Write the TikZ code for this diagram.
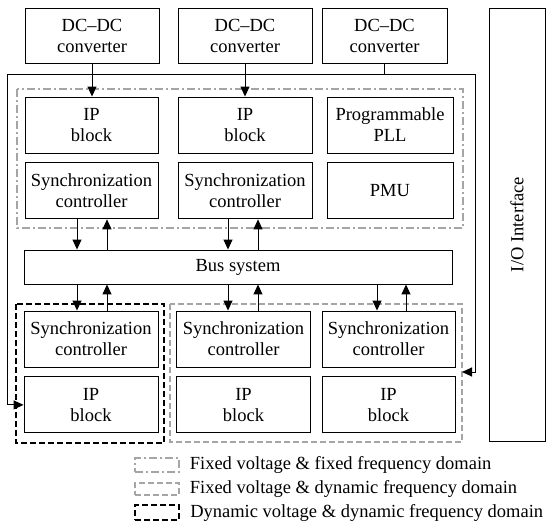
\documentclass[tikz,border=0pt]{standalone}
\usepackage{fontspec}
\setmainfont{Liberation Serif}
\usepackage{xcolor}
\usetikzlibrary{arrows.meta, positioning}
\definecolor{domgray}{RGB}{165,165,165}

\begin{document}
\begin{tikzpicture}[
  x=1pt, y=-1pt,
  font={\fontsize{18.5}{21}\selectfont},
  box/.style={rectangle, draw, line width=0.9pt, minimum width=134pt, minimum height=56pt, inner sep=0pt, align=center},
  arrow/.style={line width=1pt, -{Triangle[length=10pt,width=9pt]}},
  ffdom/.style={draw=domgray, line width=1.5pt, dash pattern=on 8pt off 3pt on 2pt off 3pt},
  fddom/.style={draw=domgray, line width=1.5pt, dash pattern=on 6pt off 3pt},
  dddom/.style={draw=black, line width=2.1pt, dash pattern=on 6pt off 3pt},
  swatch/.style={minimum width=44pt, inner sep=0pt},
  legtext/.style={inner sep=0pt}
]
  \useasboundingbox (0,0) rectangle (546,529);

  % converters
  \node[box, minimum height=55pt] (dc1) at (92,35.5) {DC--DC\\converter};
  \node[box, minimum height=55pt] (dc2) at (245,35.5) {DC--DC\\converter};
  \node[box, minimum width=125pt, minimum height=55pt] (dc3) at (384.5,35.5) {DC--DC\\converter};

  % upper domain
  \node[box, minimum width=133pt] (ip1) at (91.5,125) {IP\\block};
  \node[box, minimum width=133pt, below=9pt of ip1] (sc1) {Synchronization\\controller};
  \node[box] (ip2) at (245,125) {IP\\block};
  \node[box, below=9pt of ip2] (sc2) {Synchronization\\controller};
  \node[box, minimum width=126pt] (pll) at (390,125) {Programmable\\PLL};
  \node[box, minimum width=126pt, below=9pt of pll] (pmu) {PMU};

  \node[box, minimum width=428pt, minimum height=34pt] (bus) at (238,267) {Bus system};

  % lower domains
  \node[box] (sl1) at (91,339) {Synchronization\\controller};
  \node[box, below=9pt of sl1] (ipl1) {IP\\block};
  \node[box] (sl2) at (243.5,339) {Synchronization\\controller};
  \node[box, below=9pt of sl2] (ipl2) {IP\\block};
  \node[box, minimum width=133pt] (sl3) at (388.5,339) {Synchronization\\controller};
  \node[box, minimum width=133pt, below=9pt of sl3] (ipl3) {IP\\block};

  \node[draw, line width=0.9pt, rotate=90, minimum width=433pt, minimum height=56pt, inner sep=0pt] (io) at (517,224.5) {I/O Interface};

  % domain frames
  \draw[ffdom] (17,89) rectangle (463,228);
  \draw[dddom] (16,304) rectangle (164,443);
  \draw[fddom] (170,304) rectangle (462,442);

  % supply
  \draw[arrow] (dc1.south) -- (dc1.south |- ip1.north);
  \draw[arrow] (dc2.south) -- (dc2.south |- ip2.north);
  \coordinate (feedL) at (7,75);
  \coordinate (feedR) at (475,75);
  \coordinate (gdomE) at (462,372);
  \draw[line width=1pt] (dc3.south) -- (dc3.south |- feedL);
  \draw[arrow] (dc3.south |- feedL) -- (feedL) |- (ipl1.west);
  \draw[arrow] (dc3.south |- feedL) -- (feedR) |- (gdomE);

  % bus links
  \foreach \n/\a/\b in {sc1/-14.5/15.5, sc2/-17/13} {
    \path (\n.south) ++(\a,0) coordinate (dn) (\n.south) ++(\b,0) coordinate (up);
    \draw[arrow] (dn) -- (dn |- bus.north);
    \draw[arrow] (up |- bus.north) -- (up);
  }
  \foreach \n/\a/\b in {sl1/-14/16, sl2/-15.5/14.5, sl3/-11.5/17.5} {
    \path (\n.north) ++(\a,0) coordinate (dn) (\n.north) ++(\b,0) coordinate (up);
    \draw[arrow] (dn |- bus.south) -- (dn);
    \draw[arrow] (up) -- (up |- bus.south);
  }

  % legend
  \node[swatch, ffdom, line width=1.3pt, minimum height=14pt] (lg1) at (157,465) {};
  \node[legtext, right=10pt of lg1] (lt1) {Fixed voltage \& fixed frequency domain};
  \node[swatch, fddom, line width=1.3pt, minimum height=12pt] (lg2) at (157,489) {};
  \node[legtext, right=10pt of lg2] (lt2) {Fixed voltage \& dynamic frequency domain};
  \node[swatch, dddom, minimum height=15pt] (lg3) at (157,512.5) {};
  \node[legtext, right=10pt of lg3] (lt3) {Dynamic voltage \& dynamic frequency domain};
\end{tikzpicture}
\end{document}
